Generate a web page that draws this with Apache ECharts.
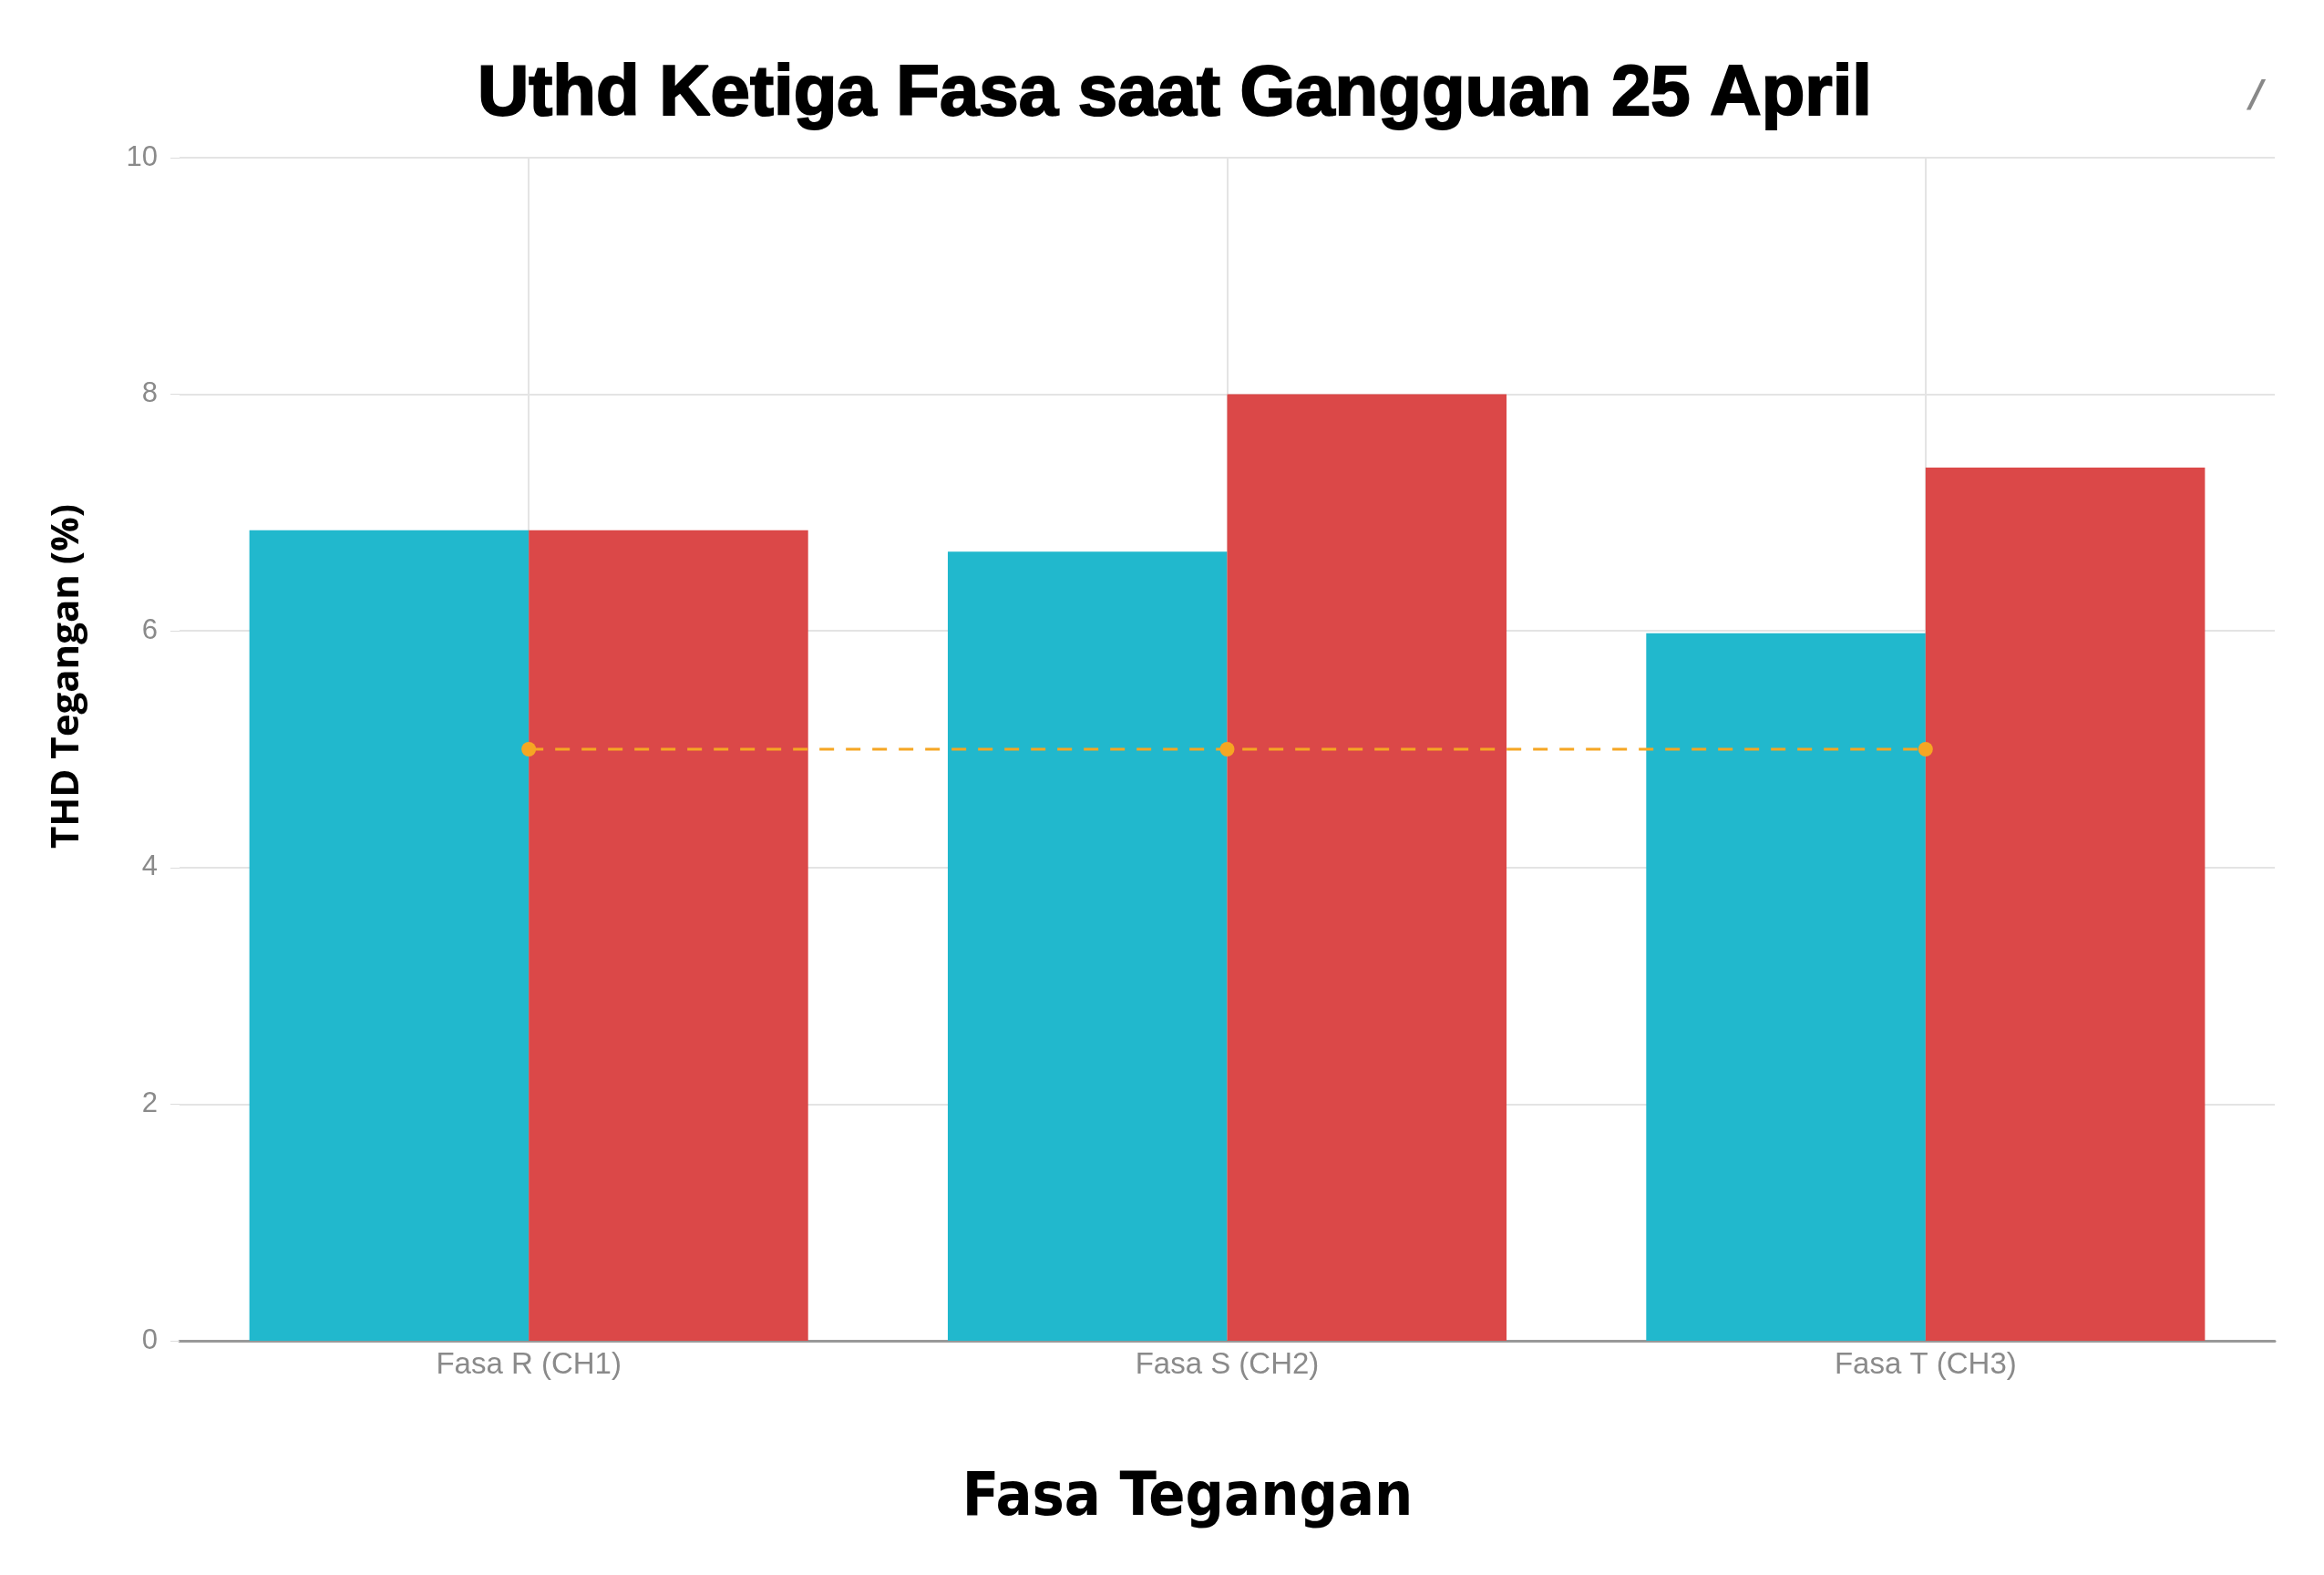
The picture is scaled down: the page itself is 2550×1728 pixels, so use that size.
<!DOCTYPE html>
<html>
<head>
<meta charset="utf-8">
<title>Uthd Ketiga Fasa saat Gangguan 25 April</title>
<script src="https://cdn.jsdelivr.net/npm/echarts@6/dist/echarts.min.js"></script>
<style>
  html, body { margin: 0; padding: 0; background: #fff; }
  #chart { width: 2550px; height: 1728px; }
</style>
</head>
<body>
<div id="chart"></div>
<script>
const phases = ["Fasa R (CH1)", "Fasa S (CH2)", "Fasa T (CH3)"];
const uthdA = [6.85, 6.67, 5.98];
const uthdB = [6.85, 8.0, 7.38];
const limit = [5, 5, 5];
const yTicks = { min: 0, max: 10, interval: 2 };

const chart = echarts.init(document.getElementById("chart"));

const option = {
    backgroundColor: "#ffffff",
    animation: false,
    grid: { left: 197, right: 54, top: 173, bottom: 257 },
    xAxis: {
        type: "category",
        data: phases,
        axisLine: { lineStyle: { color: "#999", width: 3 } },
        axisTick: { alignWithLabel: true, length: 8, lineStyle: { color: "#ddd" } },
        axisLabel: { color: "#8a8a8a", fontSize: 33, fontFamily: "Liberation Sans", margin: 10 },
        splitLine: { show: true, alignWithLabel: true, lineStyle: { color: "#e4e4e4", width: 2 } },
    },
    yAxis: {
        type: "value",
        min: yTicks.min,
        max: yTicks.max,
        interval: yTicks.interval,
        axisLine: { show: false },
        axisTick: { show: true, length: 10, lineStyle: { color: "#ddd" } },
        axisLabel: { color: "#8a8a8a", fontSize: 31, fontFamily: "Liberation Sans", margin: 24 },
        splitLine: { lineStyle: { color: "#e4e4e4", width: 2 } },
    },
    series: [
        {
            name: "Uthd A",
            type: "bar",
            data: uthdA,
            barGap: "0%",
            barCategoryGap: "20%",
            itemStyle: { color: "#21B8CD" },
        },
        {
            name: "Uthd B",
            type: "bar",
            data: uthdB,
            itemStyle: { color: "#DB4848" },
        },
        {
            name: "Batas",
            type: "line",
            data: limit,
            symbol: "circle",
            symbolSize: 16,
            itemStyle: { color: "#F5A623" },
            lineStyle: { color: "#F5A623", width: 3, type: [16, 13] },
            z: 5,
        },
    ],
    graphic: [
        {
            type: "text",
            x: 1289, y: 104,
            style: {
                text: "Uthd Ketiga Fasa saat Gangguan 25 April",
                font: "bold 78px 'Liberation Sans', Arial, sans-serif",
                fill: "#000",
                stroke: "#000",
                lineWidth: 2,
                textAlign: "center",
                textVerticalAlign: "middle",
            },
        },
        {
            type: "text",
            x: 2476, y: 107,
            style: {
                text: "/",
                font: "italic bold 40px 'DejaVu Sans'",
                fill: "#888",
                textAlign: "center",
                textVerticalAlign: "middle",
            },
        },
        {
            type: "text",
            x: 74, y: 742,
            rotation: Math.PI / 2,
            style: {
                text: "THD Tegangan (%)",
                font: "bold 42px 'Open Sans', sans-serif",
                fill: "#000",
                textAlign: "center",
                textVerticalAlign: "middle",
            },
        },
        {
            type: "text",
            x: 1303, y: 1645,
            style: {
                text: "Fasa Tegangan",
                font: "bold 66px 'DejaVu Sans Condensed', sans-serif",
                fill: "#000",
                textAlign: "center",
                textVerticalAlign: "middle",
            },
        },
    ],
};

chart.setOption(option);
</script>
</body>
</html>
